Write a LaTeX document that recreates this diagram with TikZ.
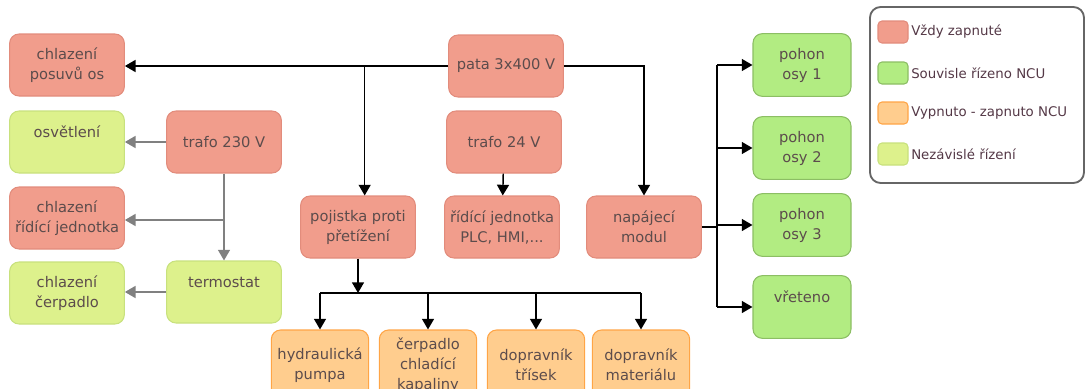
\documentclass[tikz,border=0pt]{standalone}
\usepackage{fontspec}
\setmainfont{DejaVu Sans}
\usetikzlibrary{arrows.meta}

\definecolor{txtgray}{RGB}{92,76,76}
\definecolor{keytxt}{RGB}{84,56,70}
\definecolor{redfill}{RGB}{241,157,140}
\definecolor{redline}{RGB}{226,140,124}
\definecolor{greenfill}{RGB}{178,236,130}
\definecolor{greenline}{RGB}{140,190,100}
\definecolor{orangefill}{RGB}{255,205,142}
\definecolor{orangeline}{RGB}{255,165,70}
\definecolor{limefill}{RGB}{221,241,140}
\definecolor{limeline}{RGB}{200,225,125}

\begin{document}
\begin{tikzpicture}[x=0.75pt, y=-0.75pt, >={Triangle[length=8pt,width=9pt]}]
\tikzstyle{block}=[rectangle, rounded corners=7pt, draw, line width=0.8pt, minimum width=86pt, minimum height=46.5pt, align=center, text=txtgray, font=\fontsize{11}{15}\selectfont, inner sep=1pt]
\tikzstyle{always block}=[block, fill=redfill, draw=redline];
\tikzstyle{ncu block}=[block, fill=greenfill, draw=greenline, minimum width=73.5pt, minimum height=47pt];
\tikzstyle{switched block}=[block, fill=orangefill, draw=orangeline, minimum width=73pt, minimum height=52.5pt];
\tikzstyle{local block}=[block, fill=limefill, draw=limeline];
\tikzstyle{swatch}=[rectangle, rounded corners=3pt, line width=0.8pt, minimum width=22.5pt, minimum height=16.5pt, inner sep=0pt]
\tikzstyle{keytext}=[anchor=west, inner sep=0pt, text=keytxt, font=\fontsize{10}{12}\selectfont]
\tikzstyle{pline}=[black, line width=1.1pt]
\tikzstyle{tline}=[black!50, line width=1.1pt]

\useasboundingbox (0,0) rectangle (1086,389);

% Left column
\node[always block] (posuv) at (67,65) {chlazení\\posuvů os};
\node[local block] (osvetleni) at (67,142) {osvětlení\\~};
\node[always block] (chlridici) at (67,218) {chlazení\\řídící jednotka};
\node[local block] (chlcerpadlo) at (67,293) {chlazení\\čerpadlo};
\node[always block] (trafoA) at (224,142) {trafo 230 V};
\node[local block] (termostat) at (224,292) {termostat\\~};

% Middle
\node[always block] (pata) at (506,66) {pata 3x400 V};
\node[always block] (trafoB) at (504,142) {trafo 24 V};
\node[always block] (pojistka) at (358,227) {pojistka proti\\přetížení};
\node[always block] (ridici) at (502,227) {řídící jednotka\\PLC, HMI,...};
\node[always block] (napajeci) at (644,227) {napájecí\\modul};

% Bottom row
\node[switched block] (hydraulika) at (320,365) {hydraulická\\pumpa};
\node[switched block] (cerpadlo) at (428,365) {čerpadlo\\chladící\\kapaliny};
\node[switched block] (trisky) at (536,365) {dopravník\\třísek};
\node[switched block] (material) at (641,365) {dopravník\\materiálu};

% Axis drives
\node[ncu block] (osa1) at (802,65) {pohon\\osy 1};
\node[ncu block] (osa2) at (802,148) {pohon\\osy 2};
\node[ncu block] (osa3) at (802,225) {pohon\\osy 3};
\node[ncu block] (vreteno) at (802,307) {vřeteno\\~};

% Power lines
\draw[->, pline] (pata.west) -- (pata.west -| posuv.east);
\draw[->, pline] ([xshift=5pt]pata.west -| pojistka.north) -- ([xshift=5pt]pojistka.north);
\draw[->, pline] (pata.east) -| (napajeci.north);
\draw[->, pline] (trafoB) -- (ridici);

\coordinate (bus) at (358,293);
\draw[->, pline] (pojistka) -- (bus);
\draw[pline] (hydraulika |- bus) -- (material |- bus);
\foreach \n in {hydraulika, cerpadlo, trisky, material}
    \draw[->, pline] (\n |- bus) -- (\n);

\coordinate (drives) at (717,227);
\draw[pline] (napajeci.east) -- (drives);
\draw[pline] (drives |- osa1) -- (drives |- vreteno);
\foreach \n in {osa1, osa2, osa3, vreteno}
    \draw[->, pline] (drives |- \n) -- (\n.west |- \n);

% Transformer 230 V
\draw[->, tline] (trafoA.west) -- (trafoA.west -| osvetleni.east);
\draw[->, tline] (trafoA) -- (termostat);
\coordinate (tap) at (224,220);
\draw[->, tline] (tap) -- (tap -| chlridici.east);
\draw[->, tline] (termostat.west) -- (termostat.west -| chlcerpadlo.east);

% Legend
\draw[black!60, line width=1.4pt, rounded corners=8pt] (870,7) rectangle (1084,183);
\node[swatch, fill=redfill, draw=redline] (k1) at (893,32) {};
\node[swatch, fill=greenfill, draw=greenline] (k2) at (893,73) {};
\node[swatch, fill=orangefill, draw=orangeline] (k3) at (893,113) {};
\node[swatch, fill=limefill, draw=limeline] (k4) at (893,154) {};
\node[keytext] (t1) at (911,32) {Vždy zapnuté};
\node[keytext] (t2) at (911,73) {Souvisle řízeno NCU};
\node[keytext] (t3) at (911,113) {Vypnuto - zapnuto NCU};
\node[keytext] (t4) at (911,154) {Nezávislé řízení};

\end{tikzpicture}
\end{document}
